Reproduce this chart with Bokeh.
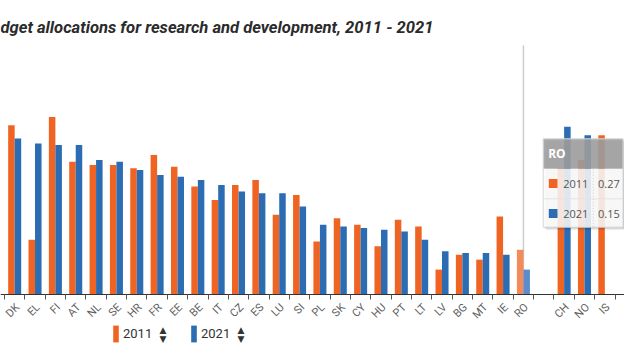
import math
from bokeh.plotting import figure
from bokeh.models import (Range1d, LinearAxis, FixedTicker, Legend, LegendItem,
                          Label, ColumnDataSource)
from bokeh.core.properties import value
from bokeh.embed import file_html
from bokeh.resources import INLINE

# ---------------- data ----------------
eu_countries = ["DK", "EL", "FI", "AT", "NL", "SE", "HR", "FR", "EE", "BE", "IT", "CZ",
                "ES", "LU", "SI", "PL", "SK", "CY", "HU", "PT", "LT", "LV", "BG", "MT",
                "IE", "RO"]
efta_countries = ["CH", "NO", "IS"]
eu_2011 = [1.02, 0.33, 1.07, 0.80, 0.78, 0.78, 0.76, 0.84, 0.77, 0.65, 0.57, 0.66,
           0.69, 0.48, 0.60, 0.32, 0.46, 0.42, 0.29, 0.45, 0.41, 0.15, 0.24, 0.21,
           0.47, 0.27]
eu_2021 = [0.94, 0.91, 0.90, 0.90, 0.81, 0.80, 0.75, 0.72, 0.71, 0.69, 0.66, 0.62,
           0.61, 0.61, 0.53, 0.42, 0.41, 0.40, 0.39, 0.38, 0.33, 0.26, 0.25, 0.25,
           0.24, 0.15]
efta_2011 = [0.76, 0.81, 0.96]
efta_2021 = [1.01, 0.96, None]
series_names = ["2011", "2021"]
title_text = "dget allocations for research and development, 2011 - 2021"
hovered = "RO"

ORANGE = "#f06423"
BLUE = "#2b6cb3"
ORANGE_HOVER = "#f4895a"
BLUE_HOVER = "#5c8ccb"

# ---------------- layout helpers (picture px -> data) ----------------
CAT0_PX, CAT_W_PX = 4.0, 20.35      # left edge of first category, category width
BASE_PX, UNIT_PX = 294.0, 166.0     # baseline, px per unit value
W, H = 624, 344


def U(sx):
    return (sx - CAT0_PX) / CAT_W_PX


def V(sy):
    return (BASE_PX - sy) / UNIT_PX


countries = eu_countries + efta_countries
slots = list(range(len(eu_countries))) + [len(eu_countries) + 1 + i for i in range(len(efta_countries))]
v2011 = eu_2011 + efta_2011
v2021 = eu_2021 + efta_2021
centers = [s + 0.5 for s in slots]
BAR_W = 0.32
LABEL_SHIFT = 0.15   # rotated labels end slightly right of the category centre

src11 = ColumnDataSource(dict(
    x=[c - BAR_W / 2 for c in centers], top=v2011, name=countries,
    color=[ORANGE_HOVER if n == hovered else ORANGE for n in countries]))
idx21 = [i for i, v in enumerate(v2021) if v is not None]
src21 = ColumnDataSource(dict(
    x=[centers[i] + BAR_W / 2 for i in idx21], top=[v2021[i] for i in idx21],
    name=[countries[i] for i in idx21],
    color=[BLUE_HOVER if countries[i] == hovered else BLUE for i in idx21]))

p = figure(width=W, height=H, x_range=Range1d(U(0), U(W)),
           y_range=Range1d(V(H), V(0)),
           toolbar_location=None, output_backend="svg", min_border=0,
           x_axis_location=None, y_axis_location=None)
p.outline_line_color = None
p.xgrid.visible = False
p.ygrid.visible = False
p.background_fill_color = "white"
p.border_fill_color = "white"

# hover crosshair
hi = countries.index(hovered)
p.segment(x0=[centers[hi]], x1=[centers[hi]], y0=[0], y1=[V(45)],
          line_color="#cccccc", line_width=1.5)

r11 = p.vbar(x="x", top="top", width=BAR_W, bottom=0, source=src11,
             fill_color="color", line_color=None)
r21 = p.vbar(x="x", top="top", width=BAR_W, bottom=0, source=src21,
             fill_color="color", line_color=None)

# x axis at the baseline
label_ticks = [c + LABEL_SHIFT for c in centers]
ax = LinearAxis(fixed_location=0)
ax.ticker = FixedTicker(ticks=label_ticks, minor_ticks=list(range(0, 32)))
ax.major_label_overrides = {t: n for t, n in zip(label_ticks, countries)}
ax.axis_line_color = "#333333"
ax.axis_line_width = 1
ax.major_tick_in = 0
ax.major_tick_out = 0
ax.minor_tick_in = 0
ax.minor_tick_out = 5
ax.minor_tick_line_color = "#555555"
ax.major_label_orientation = math.pi / 4
ax.major_label_standoff = 6
ax.major_label_text_font = "Roboto"
ax.major_label_text_font_size = "11px"
ax.major_label_text_color = "#606060"
p.add_layout(ax, "below")

# title (visible part, as cropped in the reference)
p.add_layout(Label(x=U(0), y=V(26.5), text=title_text, text_align="left",
                   text_baseline="alphabetic", text_font="Roboto",
                   text_font_style="bold italic", text_font_size="16.6px",
                   text_color="#2b2b2b"))

# legend
legend = Legend(items=[LegendItem(label=series_names[0], renderers=[r11], index=0),
                       LegendItem(label=series_names[1], renderers=[r21], index=0)],
                orientation="horizontal", location=(112, 0),
                glyph_width=7, glyph_height=21, label_standoff=4, label_width=40,
                spacing=27, padding=0, margin=0, border_line_color=None,
                background_fill_alpha=0, label_text_font="Roboto",
                label_text_font_size="13px", label_text_color="#333333")
p.add_layout(legend)

# sort icons next to legend items
for cx in (162.5, 240.5):
    p.text(x=[U(cx), U(cx)], y=[V(329.5), V(338)], text=["▲", "▼"],
           text_font=value("DejaVu Sans"), text_font_size="9px",
           text_align="center", text_baseline="middle", text_color="#333333")

# tooltip for hovered category
L, R, T, HB, RS, B = 542.7, 622.5, 138.3, 168.3, 198.3, 226.7
for k, a in ((3, 0.05), (2, 0.08), (1, 0.12)):
    p.quad(left=[U(L + k)], right=[U(R + k)], top=[V(T + k)], bottom=[V(B + k)],
           fill_color="black", fill_alpha=a, line_color=None)
p.quad(left=[U(L)], right=[U(R)], top=[V(T)], bottom=[V(HB)],
       fill_color="#a0a0a0", fill_alpha=0.88, line_color=None)
p.quad(left=[U(L)], right=[U(R)], top=[V(HB)], bottom=[V(B)],
       fill_color="white", fill_alpha=0.86, line_color=None)
p.quad(left=[U(L)], right=[U(R)], top=[V(T)], bottom=[V(B)],
       fill_color=None, line_color="#d6d6d6", line_width=1)
p.segment(x0=[U(L)], x1=[U(R)], y0=[V(RS)], y1=[V(RS)], line_color="#e3e3e3", line_width=1)
p.segment(x0=[U(592.7)], x1=[U(592.7)], y0=[V(HB)], y1=[V(B)],
          line_color="#cccccc", line_width=1, line_dash="1 2")
p.text(x=[U(547.7)], y=[V(153.3)], text=[hovered], text_font=value("Open Sans"),
       text_font_style="bold", text_font_size="12px", text_color="white",
       text_align="left", text_baseline="middle")
rows = [(series_names[0], ORANGE, v2011[hi], 183.0), (series_names[1], BLUE, v2021[hi], 213.0)]
for name, col, val, cy in rows:
    p.quad(left=[U(548.3)], right=[U(557)], top=[V(cy - 4.5)], bottom=[V(cy + 4.5)],
           fill_color=col, line_color=None)
    p.text(x=[U(562.7), U(597.5)], y=[V(cy + 0.5), V(cy + 0.5)],
           text=[name, f"{val:.2f}"], text_font=value("Open Sans"),
           text_font_size="11px", text_color="#555555",
           text_align="left", text_baseline="middle")

open("out.html", "w").write(file_html(p, INLINE))
